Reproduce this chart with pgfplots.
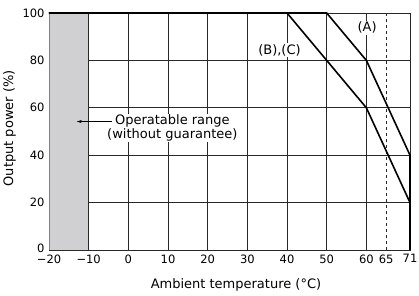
\documentclass[border=0pt]{standalone}
\usepackage{pgfplots}
\pgfplotsset{compat=1.18}
\usepackage{fontspec}
\setmainfont{DejaVu Sans}
\usetikzlibrary{arrows.meta}
\definecolor{shade}{RGB}{208,208,210}
\definecolor{gridc}{RGB}{40,40,40}
\begin{document}
\begin{tikzpicture}
\begin{axis}[
  name=ax,
  scale only axis,
  width=361pt, height=237pt,
  xmin=-20, xmax=71, ymin=0, ymax=100,
  axis line style={gridc, line width=0.6pt},
  xtick={-20,-10,0,10,20,30,40,50,60,71},
  xticklabels={−20,−10,0,10,20,30,40,50,60,71},
  extra x ticks={65},
  extra x tick labels={65},
  extra x tick style={grid style={dashed, gridc, line width=0.6pt}},
  ytick={0,20,40,60,80,100},
  yticklabels={\raisebox{3pt}{0},20,40,60,80,100},
  major tick length=0pt,
  xmajorgrids, ymajorgrids,
  grid style={gridc, line width=0.6pt},
  tick label style={font=\fontsize{11.5}{12}\selectfont, text=black},
  xticklabel style={yshift=-1pt},
  yticklabel style={xshift=-1pt},
  xlabel={Ambient temperature (°C)},
  ylabel={Output power (\%)},
  label style={font=\fontsize{13}{14}\selectfont},
  xlabel style={at={(axis description cs:0.518,0)}, anchor=base, yshift=-38pt},
  ylabel style={at={(axis description cs:-0.0997,0.513)}, anchor=base},
  clip=false,
]
\addplot[fill=shade, draw=none] coordinates {(-20,0) (-10,0) (-10,100) (-20,100)} -- cycle;
\draw[gray, line width=0.6pt] (axis cs:-20,0) -- (axis cs:-20,100);
\draw[gridc, line width=0.6pt] (axis cs:-10,0) -- (axis cs:-10,100);
\addplot[black, line width=1.6pt, line join=miter] coordinates {(-20,100) (50,100) (60,80) (71,40) (71,0)};
\addplot[black, line width=1.6pt, line join=miter] coordinates {(-20,100) (40,100) (50,80) (60,60) (71,20) (71,0)};
\node[fill=white, inner sep=1pt, font=\fontsize{13}{14}\selectfont] at (axis cs:60.2,93.7) {(A)};
\node[fill=white, inner sep=1pt, font=\fontsize{13}{14}\selectfont] at (axis cs:38.1,84.4) {(B),(C)};
\node[fill=white, inner sep=1pt, align=center, font=\fontsize{13}{13.5}\selectfont] at (axis cs:11.1,51.5) {Operatable range\\(without guarantee)};
\draw[-{Stealth[length=5pt,width=3pt]}, black, line width=0.6pt] (axis cs:-4.2,54.2) -- (axis cs:-13,54.2);
\end{axis}
\pgfresetboundingbox
\path (ax.south west) ++(-49pt,-46pt) rectangle ([shift={(9pt,13pt)}]ax.north east);
\end{tikzpicture}
\end{document}
